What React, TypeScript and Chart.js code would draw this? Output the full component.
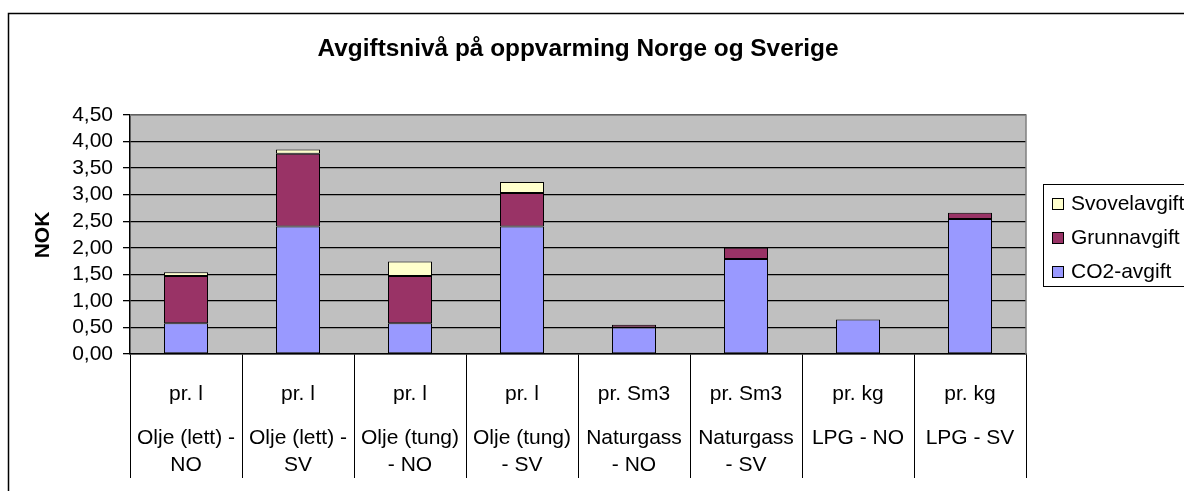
import React, { useEffect, useRef } from "react";
import { Chart, registerables } from "chart.js";

Chart.register(...registerables);

const TITLE = "Avgiftsnivå på oppvarming Norge og Sverige";
const Y_TITLE = "NOK";
const units = ["pr. l", "pr. l", "pr. l", "pr. l", "pr. Sm3", "pr. Sm3", "pr. kg", "pr. kg"];
const names: string[][] = [
  ["Olje (lett) -", "NO"],
  ["Olje (lett) -", "SV"],
  ["Olje (tung)", "- NO"],
  ["Olje (tung)", "- SV"],
  ["Naturgass", "- NO"],
  ["Naturgass", "- SV"],
  ["LPG - NO"],
  ["LPG - SV"],
];
const co2Values = [0.58, 2.4, 0.58, 2.4, 0.5, 1.79, 0.65, 2.54];
const grunnValues = [0.89, 1.37, 0.89, 0.63, 0.05, 0.21, null, 0.12];
const svovelValues = [0.07, 0.08, 0.27, 0.21, null, null, null, null];
const yTicks = [0, 0.5, 1, 1.5, 2, 2.5, 3, 3.5, 4, 4.5];

const FONT = "'Liberation Sans', Arial, sans-serif";

const decorPlugin = {
  id: "decor",
  beforeDraw(chart: any) {
    const { ctx, chartArea: a } = chart;
    ctx.save();
    ctx.fillStyle = "#ffffff";
    ctx.fillRect(0, 0, chart.width, chart.height);
    ctx.fillStyle = "#C0C0C0";
    ctx.fillRect(a.left, a.top, a.right - a.left, a.bottom - a.top);
    ctx.strokeStyle = "#000";
    ctx.lineWidth = 1.5;
    ctx.beginPath();
    ctx.moveTo(8.5, chart.height + 5);
    ctx.lineTo(8.5, 13.5);
    ctx.lineTo(chart.width + 5, 13.5);
    ctx.stroke();
    ctx.restore();
  },
  afterDraw(chart: any) {
    const { ctx, chartArea: a } = chart;
    const x = chart.scales.x;
    ctx.save();
    ctx.strokeStyle = "#808080";
    ctx.lineWidth = 1.5;
    ctx.beginPath();
    ctx.moveTo(a.left, a.top);
    ctx.lineTo(a.right, a.top);
    ctx.lineTo(a.right, a.bottom);
    ctx.stroke();
    ctx.fillStyle = "#000";
    ctx.font = `bold 24.4px ${FONT}`;
    ctx.textAlign = "center";
    ctx.textBaseline = "middle";
    ctx.fillText(TITLE, (a.left + a.right) / 2, 49);
    ctx.save();
    ctx.translate(43, 235);
    ctx.rotate(-Math.PI / 2);
    ctx.font = `bold 21px ${FONT}`;
    ctx.fillText(Y_TITLE, 0, 0);
    ctx.restore();
    ctx.font = `21px ${FONT}`;
    for (let i = 0; i < units.length; i++) {
      const cx = x.getPixelForValue(i);
      ctx.fillText(units[i], cx, 394);
      names[i].forEach((ln, k) => ctx.fillText(ln, cx, 438 + k * 27));
    }
    const lx = 1043.5, ly = 184.5;
    ctx.strokeStyle = "#000";
    ctx.lineWidth = 1;
    ctx.strokeRect(lx, ly, 200, 102);
    const ds = chart.data.datasets.slice().reverse();
    ds.forEach((d: any, k: number) => {
      const cy = 204 + k * 34;
      ctx.fillStyle = d.backgroundColor;
      ctx.fillRect(1052.5, cy - 5.5, 11, 11);
      ctx.strokeRect(1052.5, cy - 5.5, 11, 11);
      ctx.fillStyle = "#000";
      ctx.textAlign = "left";
      ctx.font = `21px ${FONT}`;
      ctx.fillText(d.label, 1071, cy);
    });
    ctx.restore();
  },
};

export default function App() {
  const ref = useRef<HTMLCanvasElement>(null);
  useEffect(() => {
    document.body.style.margin = "0";
    const common = { borderColor: "#000", borderWidth: 1, borderSkipped: false, categoryPercentage: 1, barPercentage: 0.393 };
    const chart = new Chart(ref.current!, {
      type: "bar",
      data: {
        labels: names.map((n) => n.join(" ")),
        datasets: [
          { label: "CO2-avgift", data: co2Values, backgroundColor: "#9999FF", ...common },
          { label: "Grunnavgift", data: grunnValues as any, backgroundColor: "#993366", ...common },
          { label: "Svovelavgift", data: svovelValues as any, backgroundColor: "#FFFFCC", ...common },
        ],
      },
      options: {
        animation: false,
        responsive: false,
        devicePixelRatio: 1,
        layout: { padding: { left: 0, top: 115, right: 158, bottom: 0 } },
        plugins: { legend: { display: false }, title: { display: false }, tooltip: { enabled: false } },
        scales: {
          x: {
            stacked: true,
            offset: true,
            ticks: { display: false },
            grid: { offset: true, drawOnChartArea: false, drawTicks: true, tickLength: 124, color: "#000", lineWidth: 1 },
            border: { color: "#000", width: 1.5 },
            afterFit: (s: any) => { s.height = 137; },
          },
          y: {
            stacked: true,
            min: 0,
            max: 4.5,
            afterBuildTicks: (s: any) => { s.ticks = yTicks.map((v) => ({ value: v })); },
            ticks: {
              color: "#000",
              padding: 10,
              autoSkip: false,
              font: { family: FONT, size: 21 },
              callback: (v: any) => Number(v).toFixed(2).replace(".", ","),
            },
            grid: { color: "#000", lineWidth: 1.3, tickLength: 7 },
            border: { color: "#000", width: 1.5 },
            afterFit: (s: any) => { s.width = 130; },
          },
        },
      },
      plugins: [decorPlugin],
    });
    return () => chart.destroy();
  }, []);
  return <canvas ref={ref} width={1184} height={491} style={{ display: "block", width: 1184, height: 491 }} />;
}
